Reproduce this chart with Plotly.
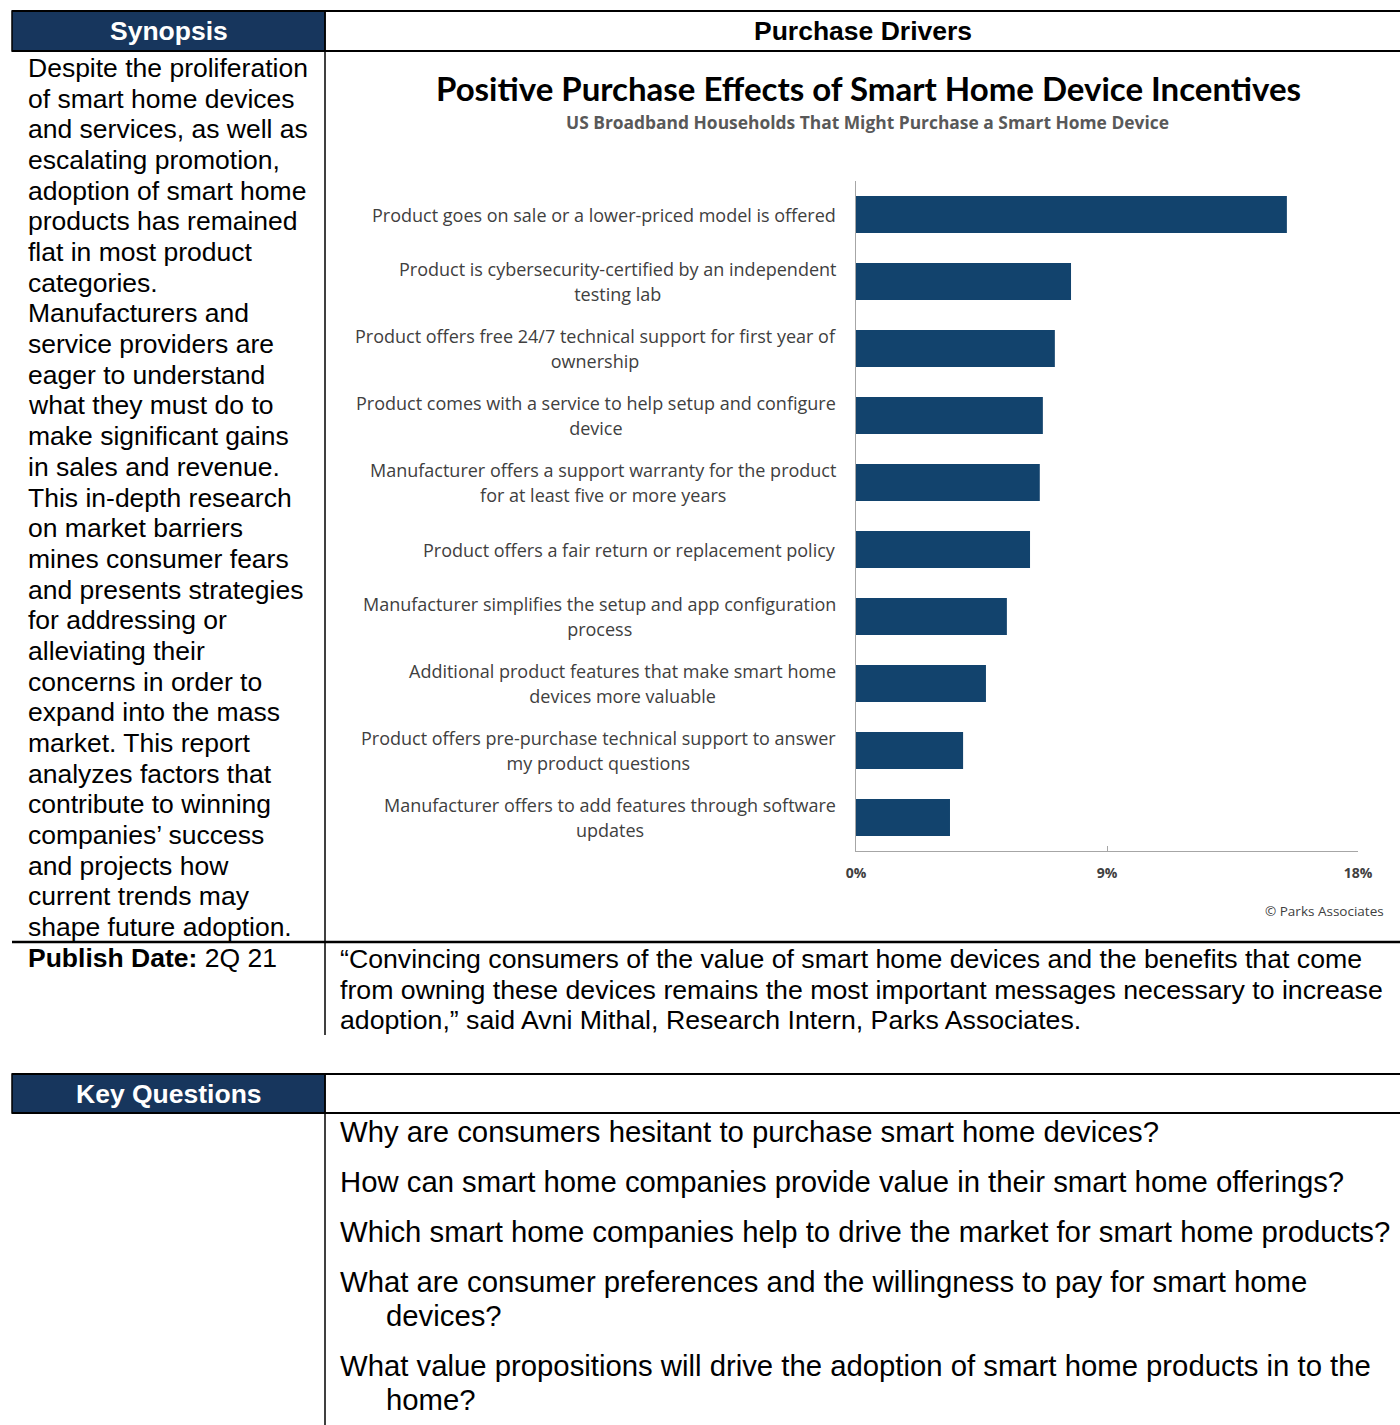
import plotly.graph_objects as go

W, H = 1400, 1425

# ---------------- data ----------------
categories = [
    "Product goes on sale or a lower-priced model is offered",
    "Product is cybersecurity-certified by an independent<br>testing lab",
    "Product offers free 24/7 technical support for first year of<br>ownership",
    "Product comes with a service to help setup and configure<br>device",
    "Manufacturer offers a support warranty for the product<br>for at least five or more years",
    "Product offers a fair return or replacement policy",
    "Manufacturer simplifies the setup and app configuration<br>process",
    "Additional product features that make smart home<br>devices more valuable",
    "Product offers pre-purchase technical support to answer<br>my product questions",
    "Manufacturer offers to add features through software<br>updates",
]
values = [15.45, 7.71, 7.13, 6.70, 6.59, 6.24, 5.41, 4.66, 3.84, 3.37]
x_tick_vals = [0, 9, 18]
x_tick_text = ["0%", "9%", "18%"]

chart_title = "Positive Purchase Effects of Smart Home Device Incentives"
chart_subtitle = "US Broadband Households That Might Purchase a Smart Home Device"
source_note = "© Parks Associates"

header_left = "Synopsis"
header_right = "Purchase Drivers"
header_questions = "Key Questions"

synopsis_lines = [
    "Despite the proliferation", "of smart home devices", "and services, as well as",
    "escalating promotion,", "adoption of smart home", "products has remained",
    "flat in most product", "categories.", "Manufacturers and",
    "service providers are", "eager to understand", "what they must do to",
    "make significant gains", "in sales and revenue.", "This in-depth research",
    "on market barriers", "mines consumer fears", "and presents strategies",
    "for addressing or", "alleviating their", "concerns in order to",
    "expand into the mass", "market. This report", "analyzes factors that",
    "contribute to winning", "companies’ success", "and projects how",
    "current trends may", "shape future adoption.",
]
publish_label = "Publish Date:"
publish_value = "2Q 21"
quote_lines = [
    "“Convincing consumers of the value of smart home devices and the benefits that come",
    "from owning these devices remains the most important messages necessary to increase",
    "adoption,” said Avni Mithal, Research Intern, Parks Associates.",
]
questions = [
    ["Why are consumers hesitant to purchase smart home devices?"],
    ["How can smart home companies provide value in their smart home offerings?"],
    ["Which smart home companies help to drive the market for smart home products?"],
    ["What are consumer preferences and the willingness to pay for smart home", "devices?"],
    ["What value propositions will drive the adoption of smart home products in to the", "home?"],
]

# ---------------- styles ----------------
NAVY = "#17365D"
BAR = "#12436D"
AXIS_GRAY = "#A6A6A6"
TXT_GRAY = "#404040"
ARIAL = "Arial, Liberation Sans, sans-serif"
CHART_FONT = "Open Sans, Noto Sans, sans-serif"
TITLE_FONT = "Lato, Open Sans, sans-serif"


def px(x):
    return x / W


def py(y):
    return 1 - y / H


fig = go.Figure()
fig.add_trace(go.Bar(
    x=values, y=categories, orientation="h",
    marker=dict(color=BAR, line=dict(width=0)),
    hoverinfo="x+y",
))

shapes = []


def hline(y, x0, x1, w=2, color="black"):
    shapes.append(dict(type="line", xref="paper", yref="paper",
                       x0=px(x0), x1=px(x1), y0=py(y), y1=py(y),
                       line=dict(color=color, width=w)))


def vline(x, y0, y1, w=1.5, color="black"):
    shapes.append(dict(type="line", xref="paper", yref="paper",
                       x0=px(x), x1=px(x), y0=py(y0), y1=py(y1),
                       line=dict(color=color, width=w)))


def rect(x0, y0, x1, y1, fill):
    shapes.append(dict(type="rect", xref="paper", yref="paper",
                       x0=px(x0), x1=px(x1), y0=py(y1), y1=py(y0),
                       fillcolor=fill, line=dict(color="black", width=1.5), layer="below"))


rect(12, 11, 325, 51, NAVY)
hline(11, 12, 1400, 2)
hline(51, 12, 1400, 2)
vline(325, 11, 1035, 1.5)
hline(942, 12, 1400, 2.5)

rect(12, 1074, 325, 1113, NAVY)
hline(1074, 12, 1400, 2)
hline(1113, 12, 1400, 2)
vline(325, 1074, 1425, 1.5)

ann = []


def text(x, y, s, size, color="black", family=ARIAL, xanchor="left", bold=False, align="left"):
    if bold:
        s = "<b>" + s + "</b>"
    ann.append(dict(xref="paper", yref="paper", x=px(x), y=py(y), text=s,
                    showarrow=False, xanchor=xanchor, yanchor="middle", align=align,
                    font=dict(size=size, color=color, family=family)))


text(169, 31, header_left, 26.5, "white", xanchor="center", bold=True)
text(863, 31, header_right, 26.5, "black", xanchor="center", bold=True)
text(169, 1094, header_questions, 26.5, "white", xanchor="center", bold=True)

for i, line in enumerate(synopsis_lines):
    text(26, 68 + i * 30.68, line, 26.5)

text(26, 958, "<b>" + publish_label + "</b> " + publish_value, 26.5)
for i, line in enumerate(quote_lines):
    text(338, 959 + i * 30.5, line, 26.7)

qy = 1131
for q in questions:
    for j, line in enumerate(q):
        text(338 if j == 0 else 384, qy + j * 34, line, 29.3)
    qy += 34 * (len(q) - 1) + 50

# chart texts
text(868, 88, chart_title, 33, "black", TITLE_FONT, xanchor="center", bold=True)
text(867, 122, chart_subtitle, 17.4, "#595959", CHART_FONT, xanchor="center", bold=True)
text(1386, 911, source_note, 13.5, TXT_GRAY, CHART_FONT, xanchor="right")

LBL = 18
for c in categories:
    lines = c.split("<br>")
    s = "<br>".join('<span style="font-size:%spx">%s</span>' % (LBL, l) for l in lines)
    ann.append(dict(xref="paper", yref="y", x=px(838), y=c, text=s, showarrow=False,
                    xanchor="right", yanchor="middle", align="center",
                    font=dict(size=25 / 1.3, color=TXT_GRAY, family=CHART_FONT)))

fig.update_layout(
    width=W, height=H, margin=dict(l=0, r=0, t=0, b=0, pad=0, autoexpand=False),
    paper_bgcolor="white", plot_bgcolor="white",
    showlegend=False, bargap=0.45,
    shapes=shapes, annotations=ann,
    xaxis=dict(domain=[px(856), px(1358)], range=[0, 18], tickvals=x_tick_vals,
               ticktext=["<b>%s</b>" % t for t in x_tick_text], showgrid=False, zeroline=False,
               showline=True, linecolor=AXIS_GRAY, linewidth=1,
               ticks="inside", ticklen=5, tickcolor=AXIS_GRAY,
               tickfont=dict(size=14, color=TXT_GRAY, family=CHART_FONT),
               ticklabelstandoff=9, fixedrange=True, automargin=False),
    yaxis=dict(domain=[py(851), py(181)], autorange="reversed", type="category",
               showticklabels=False, showgrid=False, zeroline=False,
               showline=True, linecolor=AXIS_GRAY, linewidth=1, ticks="", fixedrange=True,
               automargin=False),
)

fig.write_html(
    "out.html",
    post_script="document.body.style.margin='0';document.body.style.padding='0';"
                "document.documentElement.style.overflow='hidden';",
)
